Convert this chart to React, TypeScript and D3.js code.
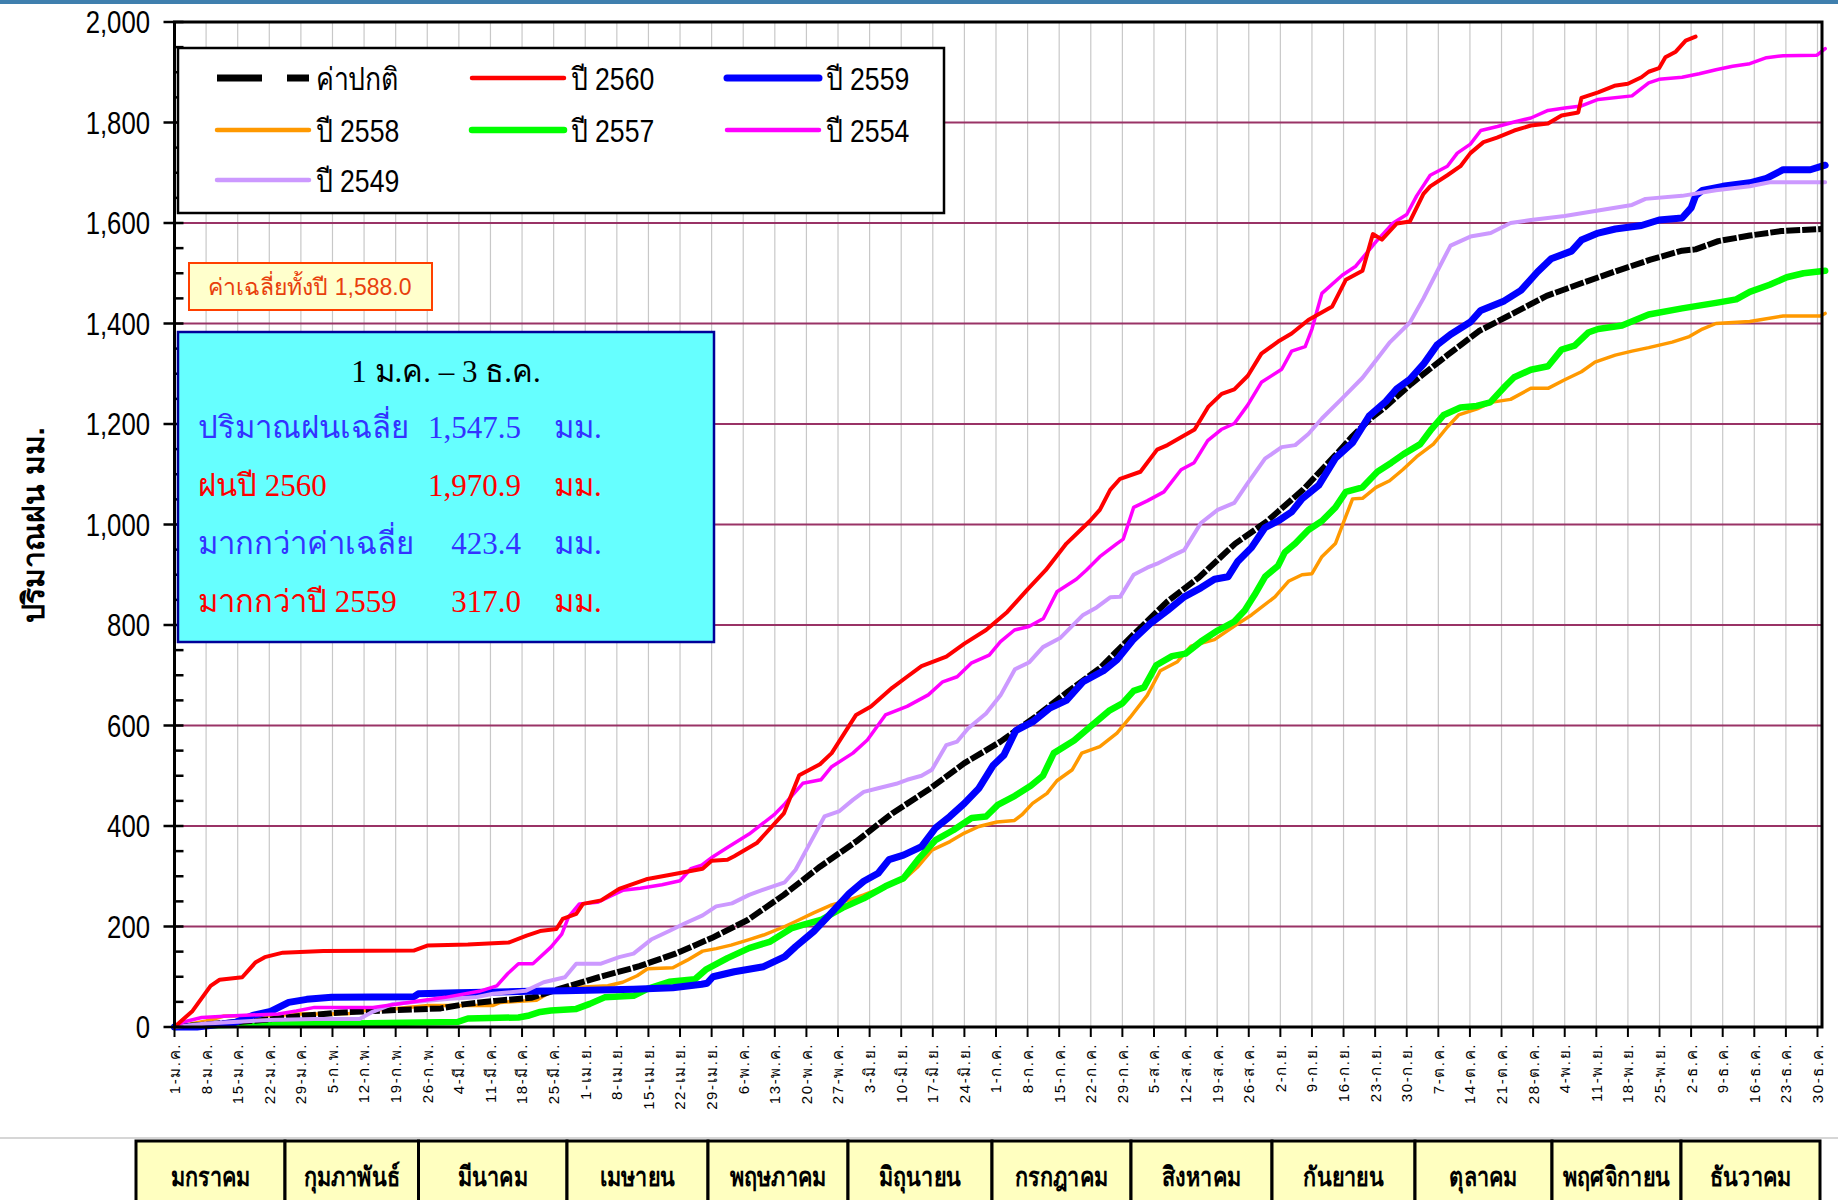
import React from 'react';
import * as d3 from 'd3';

const W = 1838;
const H = 1200;

const yTickValues = [0, 200, 400, 600, 800, 1000, 1200, 1400, 1600, 1800, 2000];
const xTickLabels = ["1-ม.ค.","8-ม.ค.","15-ม.ค.","22-ม.ค.","29-ม.ค.","5-ก.พ.","12-ก.พ.","19-ก.พ.","26-ก.พ.","4-มี.ค.","11-มี.ค.","18-มี.ค.","25-มี.ค.","1-เม.ย.","8-เม.ย.","15-เม.ย.","22-เม.ย.","29-เม.ย.","6-พ.ค.","13-พ.ค.","20-พ.ค.","27-พ.ค.","3-มิ.ย.","10-มิ.ย.","17-มิ.ย.","24-มิ.ย.","1-ก.ค.","8-ก.ค.","15-ก.ค.","22-ก.ค.","29-ก.ค.","5-ส.ค.","12-ส.ค.","19-ส.ค.","26-ส.ค.","2-ก.ย.","9-ก.ย.","16-ก.ย.","23-ก.ย.","30-ก.ย.","7-ต.ค.","14-ต.ค.","21-ต.ค.","28-ต.ค.","4-พ.ย.","11-พ.ย.","18-พ.ย.","25-พ.ย.","2-ธ.ค.","9-ธ.ค.","16-ธ.ค.","23-ธ.ค.","30-ธ.ค."];
const monthNames = ["มกราคม","กุมภาพันธ์","มีนาคม","เมษายน","พฤษภาคม","มิถุนายน","กรกฎาคม","สิงหาคม","กันยายน","ตุลาคม","พฤศจิกายน","ธันวาคม"];

// [day of year (0 = 1 Jan), cumulative rainfall mm]
const normalSeries: [number, number][] = [[0,0],[7,5],[14,10],[21,15],[28,22],[37,29],[47,33],[59,37],[64,45],[71,52],[79,58],[86,78],[94,99],[103,121],[111,146],[119,177],[127,213],[135,263],[143,319],[151,369],[159,425],[167,472],[175,525],[183,568],[191,619],[198,668],[205,714],[212,777],[220,847],[227,895],[235,962],[242,1006],[250,1069],[257,1136],[261,1176],[265,1211],[268,1232],[274,1280],[282,1337],[289,1385],[297,1422],[304,1455],[312,1481],[319,1503],[327,1527],[334,1545],[337,1547.5],[342,1564],[349,1575],[356,1584],[365,1588]];
const y2560: [number, number][] = [[0,0],[4,32],[8,82],[10,94],[15,99],[18,129],[20,139],[24,148],[33,151],[53,152],[56,162],[65,164],[74,168],[78,182],[81,191],[84.6,195],[86,215],[89,225],[90.5,245],[94.5,252],[98.5,275],[104.5,294],[110.5,304],[117,315],[119,331],[122.5,333],[124,340],[129,366],[135,425],[138.4,501],[143,523],[145.6,545],[151,621],[154.3,638],[159,675],[162.3,697],[165.5,718],[171,737],[175,763],[179.8,790],[184.5,826],[189,871],[193,909],[197.6,962],[202.8,1007],[205,1029],[207.3,1069],[209.5,1091],[214,1105],[217.7,1149],[220,1158],[226,1189],[229,1234],[232,1260],[234.8,1269],[237.8,1296],[240.8,1340],[244.5,1364],[247.5,1380],[251.2,1407],[256.5,1434],[259.5,1487],[263.2,1505],[265.5,1578],[267.5,1567],[270.8,1599],[273.7,1603],[276.7,1658],[278.2,1673],[282,1695],[284.9,1713],[287.1,1739],[290,1761],[293,1770],[296.8,1784],[300.5,1794],[304.3,1798],[307.3,1814],[311,1820],[311.7,1849],[315.4,1860],[319,1873],[322,1877],[325,1890],[326.6,1901],[328.9,1908],[330.3,1930],[332.6,1941],[334.8,1963],[337,1970.9]];
const y2559: [number, number][] = [[0,0],[5,0],[13.4,9],[17.3,23],[21.3,31],[25.3,49],[29.3,55],[34.8,59],[53,60],[54,66],[62.7,68],[78.6,71],[86.5,72],[101.7,75],[110.4,78],[116.8,85],[118,87],[119.3,100],[124,110],[130.5,120],[135.2,140],[137.6,160],[141.6,190],[144.8,220],[149.5,266],[152.7,290],[155.9,306],[158.3,333],[161.5,342],[165.5,359],[168.6,396],[171.8,419],[175,445],[178.2,475],[181.4,521],[183.75,541],[186.4,590],[190.1,607],[193.8,634],[197.6,650],[201.3,687],[205.8,709],[208.8,731],[212.5,772],[216.2,803],[220,829],[223.7,856],[227.4,874],[230.4,891],[233.4,896],[235.6,927],[238.6,954],[241.6,994],[244.5,1007],[247.5,1025],[249.8,1051],[253.5,1078],[257.2,1132],[261,1163],[264.7,1216],[268.4,1245],[270.8,1270],[273.7,1289],[276.7,1319],[279.7,1357],[282.7,1378],[287.1,1403],[289.4,1426],[294.6,1445],[298.3,1466],[302,1503],[305,1529],[309.5,1544],[311.7,1566],[315.4,1580],[319.2,1588],[325,1595],[328.9,1606],[334,1610],[336,1630],[337,1654],[338.5,1665],[343,1673],[349,1680],[352.7,1689],[356.4,1706],[362.4,1706],[365.7,1715]];
const y2558: [number, number][] = [[0,0],[7,12],[11,22],[23,23],[27,26],[34,26],[38.8,27],[42,33],[48.4,36],[51.5,39],[56.3,43],[70.6,43],[72.2,49],[80.2,53],[82.6,66],[85,76],[89.7,79],[96,82],[99.3,89],[102.5,102],[104.8,116],[110.4,118],[113.6,133],[117,151],[120,156],[123.3,163],[127.3,174],[130.5,183],[135.2,200],[137.6,210],[141.6,227],[145.6,243],[149.5,253],[152.7,263],[157.5,280],[161.5,293],[164.7,319],[167.8,352],[171.8,369],[175,386],[178.2,399],[182.2,408],[186.1,411],[187.7,422],[190.1,445],[193.3,465],[195.5,490],[198.9,512],[201,545],[205,558],[208.8,585],[211.7,616],[215.5,660],[218.4,709],[222.2,727],[225.2,758],[230.4,771],[234.8,798],[238.6,820],[243.8,856],[246.8,887],[249.8,900],[252,902],[254.2,936],[257.2,962],[259.5,1016],[261,1051],[263.2,1052],[266.2,1074],[269.2,1087],[272.1,1109],[275.2,1135],[278.9,1160],[282,1194],[284.5,1218],[288.6,1230],[291.6,1243],[296,1249],[300.5,1271],[304.3,1271],[308,1288],[311.7,1304],[314.7,1323],[319.2,1337],[322.9,1345],[326.6,1352],[331.8,1363],[335.6,1374],[338.5,1389],[341.5,1400],[349,1404],[356.4,1415],[364.6,1415],[365.7,1420]];
const y2557: [number, number][] = [[0,0],[4,2],[15,5],[39,7],[62.7,10],[65,17],[76.2,19],[78.6,23],[81,30],[83.4,33],[89,36],[92,46],[95.3,59],[101.7,62],[104.8,76],[109.6,90],[115.3,95],[117.7,114],[122.5,137],[127.3,157],[132,170],[136.8,197],[139.2,203],[143.2,213],[148,237],[152.7,256],[157.5,280],[161.5,296],[164.7,333],[168.6,372],[172.6,392],[176.6,416],[179.8,419],[182.4,442],[186.2,460],[189.7,480],[192.4,500],[194.8,545],[199.3,570],[203.2,600],[207,629],[210,644],[212.5,669],[214.8,676],[217.5,720],[221,738],[224,743],[227.4,767],[231.1,789],[234.8,807],[237.1,829],[239.3,860],[241.6,896],[244.5,918],[246,945],[248.3,962],[251.2,989],[254.2,1007],[257.2,1034],[259.5,1065],[263.2,1074],[266.5,1105],[269.6,1123],[272.3,1140],[276,1160],[278.5,1190],[281.2,1218],[284.9,1233],[288.5,1236],[291.5,1243],[294.8,1275],[296.8,1293],[300.5,1308],[304.3,1315],[307.3,1348],[310.2,1356],[313.2,1382],[315.4,1389],[320.7,1396],[326.6,1418],[334,1430],[341.5,1441],[346,1448],[349,1463],[353.4,1477],[357.2,1492],[360.9,1500],[365.7,1505]];
const y2554: [number, number][] = [[0,0],[2,10],[6,19],[12,22],[23,26],[27,32],[31,39],[44,39],[60,59],[67.5,71],[71.4,82],[73.8,106],[76.2,126],[79.4,126],[83.4,159],[85.8,185],[87.3,219],[89.7,245],[93.7,248],[96.9,262],[99.3,272],[103.2,276],[108,283],[112,291],[114.4,315],[116.8,322],[119.3,339],[122.5,357],[127.3,384],[132.8,422],[135.2,444],[139.2,485],[143.2,492],[145.6,518],[150.3,545],[153.5,571],[157.5,621],[162.3,638],[167,661],[170.2,687],[173.4,697],[176.5,724],[180.5,740],[183,767],[186.1,790],[189.3,797],[192.5,813],[195.5,866],[199.8,891],[202,909],[205,936],[208.8,962],[210.2,971],[212.5,1034],[215.5,1047],[219.2,1065],[223,1109],[225.9,1123],[228.9,1167],[231.9,1189],[234.8,1201],[237.8,1238],[240.8,1283],[245.3,1309],[247.5,1345],[250.5,1354],[252,1389],[254.2,1460],[258.7,1496],[261.7,1514],[266.2,1563],[270,1600],[273,1617],[275.2,1654],[278.2,1695],[282,1713],[284.2,1739],[287.1,1757],[289.4,1784],[293.1,1792],[296.8,1801],[300.5,1809],[304.3,1824],[308,1829],[311.7,1833],[315.4,1846],[322.9,1853],[326.6,1879],[328.9,1886],[334,1890],[337.8,1897],[341.5,1905],[345.2,1912],[349,1917],[352.7,1929],[356.4,1933],[363.9,1934],[365.7,1947]];
const y2549: [number, number][] = [[0,0],[7,7],[21,14],[31,16],[41,16],[43.6,29],[48.4,46],[61,56],[66.6,59],[70.6,66],[77.8,72],[81.8,89],[86.5,99],[89,126],[94.5,126],[98.5,139],[101.7,146],[105.6,174],[109.6,191],[113,206],[117,222],[120,240],[123.5,246],[127.3,263],[131.3,276],[135.2,288],[137.6,313],[140.8,366],[144,419],[147.2,429],[150.3,452],[152.7,468],[155.9,475],[159.9,484],[162.3,492],[165.5,500],[167.8,512],[171,561],[173.4,568],[175.8,594],[179.8,624],[183,660],[186.2,712],[189.4,726],[192.4,756],[196.2,774],[201.3,820],[204.3,835],[207.3,855],[209.5,856],[212.5,900],[215.5,914],[217.7,922],[220.7,936],[223.7,949],[227.4,1003],[231.1,1029],[234.8,1043],[237.8,1083],[241.6,1131],[245.3,1154],[248.3,1158],[251.2,1180],[254.2,1211],[258.7,1251],[263.2,1292],[266.2,1327],[269.3,1363],[273.7,1402],[276.7,1450],[279.7,1503],[282.7,1555],[287.1,1573],[291.6,1580],[296,1600],[300.5,1606],[308,1614],[315.4,1625],[322.9,1636],[325.9,1648],[334,1654],[341.5,1665],[349,1673],[353.4,1681],[365.7,1681]];

const summaryTitle = "1 ม.ค. – 3 ธ.ค.";
const summaryLabels = ["ปริมาณฝนเฉลี่ย", "ฝนปี 2560", "มากกว่าค่าเฉลี่ย", "มากกว่าปี 2559"];
const summaryValues = ["1,547.5", "1,970.9", "423.4", "317.0"];
const annualAvgLabel = "ค่าเฉลี่ยทั้งปี 1,588.0";

const SANS = "'Liberation Sans', Arial, sans-serif";
const SERIF = "'Liberation Serif', 'Times New Roman', serif";

type Style = { name: string; color: string; width: number; dash?: string };
const seriesList: { data: [number, number][]; style: Style }[] = [
  { data: normalSeries, style: { name: "ค่าปกติ", color: "#000000", width: 6, dash: "14 2" } },
  { data: y2560, style: { name: "ปี 2560", color: "#FF0000", width: 4 } },
  { data: y2559, style: { name: "ปี 2559", color: "#0000FF", width: 7 } },
  { data: y2558, style: { name: "ปี 2558", color: "#FF9900", width: 3.5 } },
  { data: y2557, style: { name: "ปี 2557", color: "#00FF00", width: 6.5 } },
  { data: y2554, style: { name: "ปี 2554", color: "#FF00FF", width: 3.5 } },
  { data: y2549, style: { name: "ปี 2549", color: "#CC99FF", width: 4 } },
];
const drawOrder = [3, 4, 0, 2, 6, 5, 1];

const monthEdges = [136, 285, 418.5, 567, 708, 848, 992, 1131, 1272, 1415, 1552, 1681, 1820];

export default function App() {
  const x = d3.scaleLinear().domain([0, 365]).range([174.5, 1822]);
  const y = d3.scaleLinear().domain([0, 2000]).range([1027, 22]);
  const line = d3.line<[number, number]>().x(d => x(d[0])).y(d => y(d[1])).curve(d3.curveLinear);
  const minor = d3.range(0, 2001, 50).filter(v => v % 200 !== 0);
  const fmt = d3.format(",");
  const x0 = x(0), x1 = x(365), yb = y(0), yt = y(2000);

  const legendCols = [217, 472, 727];
  const legendRows = [78, 130, 180];

  return (
    <svg width={W} height={H} style={{ position: 'absolute', left: 0, top: 0, background: '#fff' }}>
      <rect x={0} y={0} width={W} height={H} fill="#fff" />
      <rect x={0} y={0} width={W} height={4} fill="#3F7FAE" />

      {/* vertical grid */}
      {xTickLabels.map((_, i) => i > 0 ? (
        <line key={'vg' + i} x1={x(i * 7)} x2={x(i * 7)} y1={yt} y2={yb} stroke="#C8C8C8" strokeWidth={1.2} />
      ) : null)}
      {/* horizontal grid */}
      {yTickValues.filter(v => v > 0 && v < 2000).map(v => (
        <line key={'hg' + v} x1={x0} x2={x1} y1={y(v)} y2={y(v)} stroke="#993366" strokeWidth={2} />
      ))}

      {/* series */}
      {drawOrder.map(i => {
        const s = seriesList[i];
        return (
          <path key={'s' + i} d={line(s.data) || ''} fill="none" stroke={s.style.color}
            strokeWidth={s.style.width} strokeDasharray={s.style.dash}
            strokeLinejoin="round" strokeLinecap={s.style.dash ? 'butt' : 'round'} />
        );
      })}

      {/* plot frame */}
      <rect x={x0} y={yt} width={x1 - x0} height={yb - yt} fill="none" stroke="#000" strokeWidth={3} />

      {/* y axis ticks */}
      {yTickValues.map(v => (
        <g key={'yt' + v}>
          <line x1={x0 - 11} x2={x0 + 9} y1={y(v)} y2={y(v)} stroke="#000" strokeWidth={2.5} />
          <text transform={`translate(150,${y(v)}) scale(0.83,1)`} dy="0.36em" textAnchor="end"
            fontFamily={SANS} fontSize={31} fill="#000">{fmt(v)}</text>
        </g>
      ))}
      {minor.map(v => (
        <line key={'ym' + v} x1={x0} x2={x0 + 9} y1={y(v)} y2={y(v)} stroke="#000" strokeWidth={2.5} />
      ))}

      {/* x axis ticks */}
      {xTickLabels.map((lab, i) => (
        <g key={'xt' + i}>
          <line x1={x(i * 7)} x2={x(i * 7)} y1={yb} y2={yb + 10} stroke="#000" strokeWidth={2} />
          <text transform={`translate(${x(i * 7)},1043) rotate(-90)`} dy="0.36em" textAnchor="end"
            fontFamily={SANS} fontSize={15} letterSpacing={1.6} fill="#000">{lab}</text>
        </g>
      ))}

      {/* y axis title */}
      <text transform="translate(33,525) rotate(-90)" dy="0.35em" textAnchor="middle" fontFamily={SANS}
        fontWeight="bold" fontSize={30} fill="#000">ปริมาณฝน มม.</text>

      {/* legend */}
      <rect x={178} y={48} width={766} height={165} fill="#fff" stroke="#000" strokeWidth={2.5} />
      {seriesList.map((s, i) => {
        const cx = legendCols[i % 3];
        const cy = legendRows[Math.floor(i / 3)];
        return (
          <g key={'lg' + i}>
            <line x1={cx} x2={cx + 92} y1={cy} y2={cy} stroke={s.style.color}
              strokeWidth={s.style.dash ? 7 : Math.max(s.style.width, 4.5)}
              strokeDasharray={s.style.dash ? "45 25" : undefined} strokeLinecap={s.style.dash ? 'butt' : 'round'} />
            <text transform={`translate(${cx + 99},${cy + 12}) scale(0.86,1)`} fontFamily={SANS} fontSize={31} fill="#000">{s.style.name}</text>
          </g>
        );
      })}

      {/* annual average box */}
      <rect x={189} y={263} width={243} height={47} fill="#FFFFCC" stroke="#FF4000" strokeWidth={2} />
      <text x={310} y={295} textAnchor="middle" fontFamily={SANS} fontSize={23} fill="#E8400C">{annualAvgLabel}</text>

      {/* summary box */}
      <rect x={178} y={332} width={536} height={310} fill="#66FFFF" stroke="#000099" strokeWidth={2.5} />
      <text x={446} y={382} textAnchor="middle" fontFamily={SERIF} fontSize={31} fill="#000">{summaryTitle}</text>
      {summaryLabels.map((lab, i) => {
        const col = i % 2 === 0 ? "#3333FF" : "#FF0000";
        const by = 438 + i * 58;
        return (
          <g key={'sm' + i}>
            <text x={198} y={by} fontFamily={SERIF} fontSize={31} fill={col}>{lab}</text>
            <text x={521} y={by} textAnchor="end" fontFamily={SERIF} fontSize={31} fill={col}>{summaryValues[i]}</text>
            <text x={554} y={by} fontFamily={SERIF} fontSize={31} fill={col}>มม.</text>
          </g>
        );
      })}

      {/* month table */}
      <line x1={0} x2={W} y1={1138} y2={1138} stroke="#C8C8C8" strokeWidth={1.5} />
      {monthNames.map((m, i) => {
        const cx = (monthEdges[i] + monthEdges[i + 1]) / 2;
        return (
          <g key={'mt' + i}>
            <rect x={monthEdges[i]} y={1141} width={monthEdges[i + 1] - monthEdges[i]} height={80}
              fill="#FFFFC0" stroke="#000" strokeWidth={3} />
            <text transform={`translate(${cx},1186) scale(0.8,1)`} textAnchor="middle"
              fontFamily={SANS} fontWeight="bold" fontSize={27} fill="#000">{m}</text>
          </g>
        );
      })}
    </svg>
  );
}
